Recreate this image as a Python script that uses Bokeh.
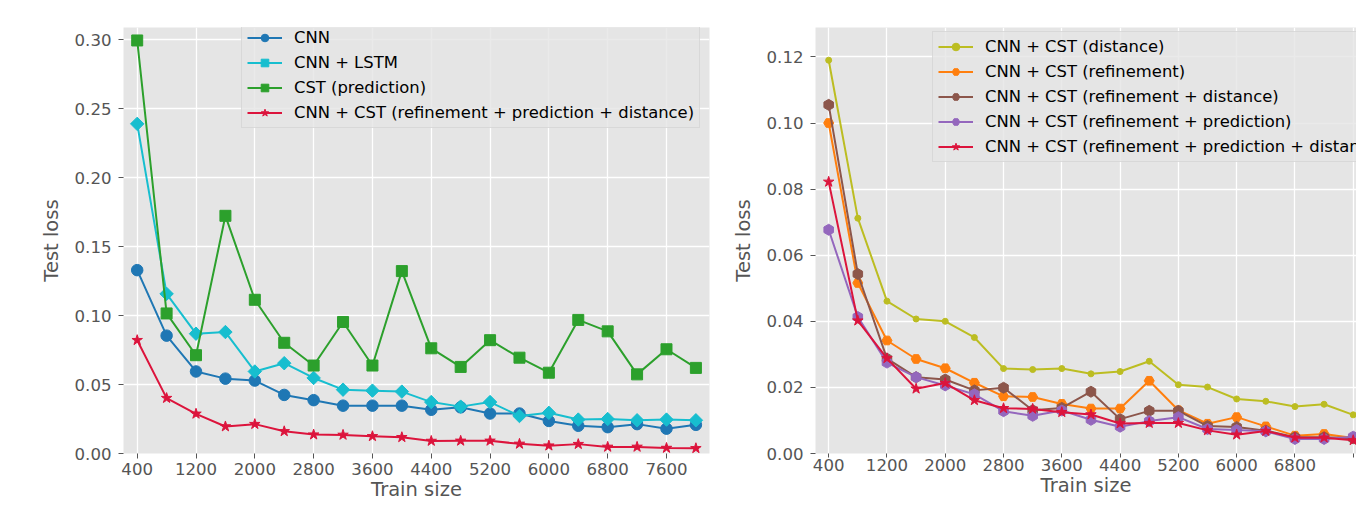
from bokeh.plotting import figure
from bokeh.layouts import row
from bokeh.models import (Range1d, FixedTicker, PrintfTickFormatter, Legend,
                          LegendItem)
from bokeh.embed import file_html
from bokeh.resources import INLINE
import math

# ---------------- data ----------------
train_size = [400, 800, 1200, 1600, 2000, 2400, 2800, 3200, 3600, 4000,
              4400, 4800, 5200, 5600, 6000, 6400, 6800, 7200, 7600, 8000]
x_ticks = [400, 1200, 2000, 2800, 3600, 4400, 5200, 6000, 6800, 7600]
y_ticks_left = [0.0, 0.05, 0.10, 0.15, 0.20, 0.25, 0.30]
y_ticks_right = [0.0, 0.02, 0.04, 0.06, 0.08, 0.10, 0.12]

cnn = [0.133, 0.0855, 0.0595, 0.0543, 0.0529, 0.0425, 0.0387, 0.0347, 0.0347, 0.0347,
       0.0317, 0.0335, 0.029, 0.029, 0.0236, 0.0201, 0.0191, 0.0213, 0.018, 0.0208]
cnn_lstm = [0.2391, 0.1158, 0.0869, 0.0881, 0.0595, 0.0655, 0.0548, 0.0463, 0.0456, 0.0449,
            0.0373, 0.034, 0.0373, 0.0272, 0.0295, 0.0246, 0.025, 0.0241, 0.0246, 0.0241]
cst_pred = [0.2996, 0.1016, 0.0713, 0.1724, 0.1115, 0.0803, 0.0638, 0.0954, 0.0638, 0.1323,
            0.0763, 0.0628, 0.0822, 0.0695, 0.0586, 0.0969, 0.0886, 0.0574, 0.0756, 0.0621]
cst_full = [0.0822, 0.0402, 0.0288, 0.0196, 0.0213, 0.0161, 0.0137, 0.0135, 0.0125, 0.0118,
            0.0091, 0.0092, 0.0092, 0.007, 0.0057, 0.0068, 0.0048, 0.0048, 0.004, 0.0038]

cst_dist = [0.119, 0.0712, 0.0461, 0.0407, 0.04, 0.0351, 0.0257, 0.0254, 0.0257, 0.0241,
            0.0248, 0.0279, 0.0208, 0.0201, 0.0165, 0.0158, 0.0142, 0.0149, 0.0117, 0.011]
cst_ref = [0.1, 0.0516, 0.0342, 0.0286, 0.0258, 0.0214, 0.0173, 0.0171, 0.015, 0.0136,
           0.0136, 0.022, 0.0131, 0.009, 0.011, 0.0082, 0.0054, 0.0059, 0.0047, 0.0045]
cst_ref_dist = [0.1055, 0.0543, 0.0287, 0.0231, 0.0224, 0.0191, 0.0199, 0.0131, 0.0138, 0.0187,
                0.0104, 0.0129, 0.0129, 0.0083, 0.008, 0.0069, 0.0049, 0.0049, 0.0046, 0.0045]
cst_ref_pred = [0.0677, 0.0413, 0.0275, 0.0231, 0.0206, 0.0179, 0.0128, 0.0114, 0.013, 0.0102,
                0.0081, 0.0098, 0.011, 0.0074, 0.0071, 0.0067, 0.0044, 0.0044, 0.0051, 0.005]

FONT = "DejaVu Sans"
BG = "#E5E5E5"
TXT = "#555555"


def style(p, yticks, x_tick_out, x_standoff):
    p.background_fill_color = BG
    p.border_fill_color = "white"
    p.outline_line_color = None
    for g in (p.xgrid, p.ygrid):
        g.grid_line_color = "white"
        g.grid_line_width = 1.3
    p.xaxis.ticker = FixedTicker(ticks=x_ticks)
    p.yaxis.ticker = FixedTicker(ticks=yticks)
    p.yaxis.formatter = PrintfTickFormatter(format="%.2f")
    for ax in (p.xaxis[0], p.yaxis[0]):
        ax.axis_line_color = None
        ax.major_tick_line_color = TXT
        ax.major_tick_out = 5
        ax.major_tick_in = 0
        ax.minor_tick_line_color = None
        ax.major_label_text_color = TXT
        ax.major_label_text_font = FONT
        ax.major_label_text_font_size = "16.6px"
        ax.axis_label_text_font = FONT
        ax.axis_label_text_font_size = "19.5px"
        ax.axis_label_text_font_style = "normal"
        ax.axis_label_text_color = TXT
    p.xaxis.major_tick_out = x_tick_out
    p.yaxis.axis_label_standoff = 9
    p.xaxis.axis_label_standoff = 0
    p.xaxis.major_label_standoff = x_standoff
    p.yaxis.major_label_standoff = 7
    p.yaxis.axis_label = "Test loss"
    p.xaxis.axis_label = "Train size"


def series(p, y, color, marker, size, angle=0.0, lw=2):
    l = p.line(train_size, y, line_color=color, line_width=lw)
    s = p.scatter(train_size, y, marker=marker, size=size, angle=angle,
                  fill_color=color, line_color=color)
    return [l, s]


def make_legend(items, loc):
    return Legend(items=items, location=loc, label_text_font=FONT,
                  label_text_font_size="16.4px", label_text_color="black",
                  glyph_width=35, glyph_height=19, label_height=19,
                  label_standoff=12, spacing=6, padding=5, margin=0,
                  background_fill_color=BG, background_fill_alpha=0.8,
                  border_line_color="#CCCCCC", border_line_width=1)


# ---------------- left panel ----------------
left = figure(width=728, height=507, output_backend="svg", toolbar_location=None,
              x_range=Range1d(213.6, 8185), y_range=Range1d(0, 0.309),
              min_border_left=123, min_border_right=19,
              min_border_top=17, min_border_bottom=54)
style(left, y_ticks_left, 5, 4)
r1 = series(left, cnn, "#1f77b4", "circle", 11.5)
r2 = series(left, cnn_lstm, "#17becf", "square", 9.5, angle=math.pi / 4)
r3 = series(left, cst_pred, "#2ca02c", "square", 11)
r4 = series(left, cst_full, "#DC143C", "star", 11)
left.add_layout(make_legend([
    LegendItem(label="CNN", renderers=r1),
    LegendItem(label="CNN + LSTM", renderers=r2),
    LegendItem(label="CST (prediction)", renderers=r3),
    LegendItem(label="CNN + CST (refinement + prediction + distance)", renderers=r4),
], (118, 325)))

# ---------------- right panel ----------------
right = figure(width=628, height=507, output_backend="svg", toolbar_location=None,
               x_range=Range1d(219, 7645), y_range=Range1d(0, 0.1289),
               min_border_left=83, min_border_right=0,
               min_border_top=27, min_border_bottom=51)
style(right, y_ticks_right, 4, 1)
right.xaxis.major_label_overrides = {7600: ""}
q1 = series(right, cst_dist, "#bcbd22", "circle", 6)
q2 = series(right, cst_ref, "#ff7f0e", "hex", 10)
q3 = series(right, cst_ref_dist, "#8c564b", "hex", 11, angle=math.pi / 6)
q4 = series(right, cst_ref_pred, "#9467bd", "hex", 11, angle=math.pi / 6)
q5 = series(right, cst_full, "#DC143C", "star", 11)
right.add_layout(make_legend([
    LegendItem(label="CNN + CST (distance)", renderers=q1),
    LegendItem(label="CNN + CST (refinement)", renderers=q2),
    LegendItem(label="CNN + CST (refinement + distance)", renderers=q3),
    LegendItem(label="CNN + CST (refinement + prediction)", renderers=q4),
    LegendItem(label="CNN + CST (refinement + prediction + distance)", renderers=q5),
], (117, 291)))

layout = row(left, right)
open("out.html", "w").write(file_html(layout, INLINE))
